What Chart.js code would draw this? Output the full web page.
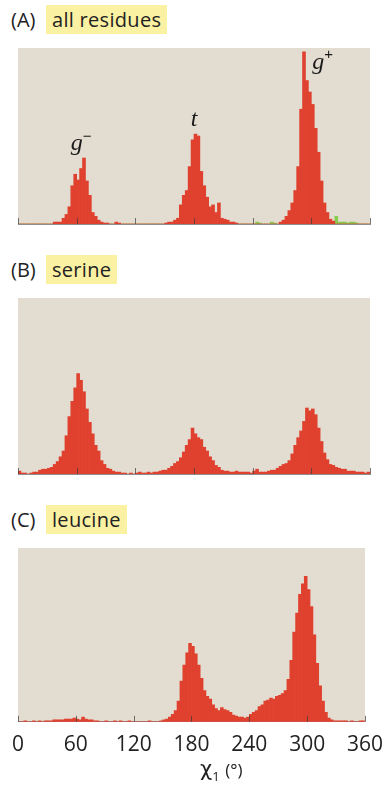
<!DOCTYPE html>
<html>
<head>
<meta charset="utf-8">
<script src="https://cdn.jsdelivr.net/npm/chart.js@4.4.1/dist/chart.umd.min.js"></script>
<style>
  body { margin: 0; background: #fff; width: 386px; height: 789px; position: relative; overflow: hidden; font-family: "Open Sans", sans-serif; color: #222; }
  .painel { position: absolute; left: 11px; height: 29px; line-height: 29px; font-size: 20px; white-space: nowrap; }
  .painel .tag { display: inline-block; width: 35px; }
  .painel .nome { display: inline-block; height: 29px; background: #fbf1a3; padding: 0 6px; letter-spacing: 0.3px; }
  canvas { position: absolute; left: 0; }
  #eixoTitulo { position: absolute; left: 200px; top: 752px; font-size: 22px; white-space: nowrap; }
  #eixoTitulo .chi { font-family: "DejaVu Sans", sans-serif; font-size: 21px; }
  #eixoTitulo sub { font-size: 13px; }
  #eixoTitulo small { font-size: 17px; }
</style>
</head>
<body>

<div class="painel" style="top:5px"><span class="tag">(A)</span><span class="nome">all residues</span></div>
<div class="painel" style="top:255px"><span class="tag">(B)</span><span class="nome">serine</span></div>
<div class="painel" style="top:505px"><span class="tag">(C)</span><span class="nome">leucine</span></div>

<canvas id="graficoA" width="386" height="200" style="top:40px"></canvas>
<canvas id="graficoB" width="386" height="200" style="top:290px"></canvas>
<canvas id="graficoC" width="386" height="225" style="top:540px"></canvas>

<div id="eixoTitulo"><span class="chi">χ</span><sub>1</sub> <small>(°)</small></div>

<script>
// histogram bins of 3 degrees, 0..360
const binWidth = 3;
const tickValues = [0, 60, 120, 180, 240, 300, 360];

// (A) all residues - counts per bin (red), plus the few green bins
const allResidues = [
  0, 0, 0, 0, 0, 0, 0, 0, 0, 0, 0, 0,
  2, 2, 2, 6, 10, 18, 40, 52, 46, 58, 69, 45,
  30, 12, 8, 4, 2, 1, 1, 0, 0, 2, 1, 0,
  0, 0, 0, 0, 0, 0, 0, 0, 0, 0, 0, 0,
  0, 0, 1, 2, 2, 4, 6, 20, 30, 35, 60, 88,
  94, 92, 55, 40, 28, 18, 20, 12, 22, 6, 5, 4,
  2, 2, 1, 0, 0, 0, 0, 0, 0, 0, 0, 0,
  0, 0, 0, 0, 0, 2, 4, 8, 14, 22, 35, 60,
  120, 180, 150, 138, 125, 100, 75, 45, 22, 12, 5, 3,
  0, 0, 0, 0, 0, 0, 0, 0, 0, 0, 0, 0
];
const allResiduesGreen = [
  0, 0, 0, 0, 0, 0, 0, 0, 0, 0, 0, 0,
  0, 0, 0, 0, 0, 0, 0, 0, 0, 0, 0, 0,
  0, 0, 0, 0, 0, 0, 0, 0, 0, 0, 0, 0,
  0, 0, 0, 0, 0, 0, 0, 0, 0, 0, 0, 0,
  0, 0, 0, 0, 0, 0, 0, 0, 0, 0, 0, 0,
  0, 0, 0, 0, 0, 0, 0, 0, 0, 0, 0, 0,
  0, 0, 0, 0, 0, 0, 0, 0, 0, 2, 1, 0,
  0, 0, 2, 1, 0, 0, 0, 0, 0, 0, 0, 0,
  0, 0, 0, 0, 0, 0, 0, 0, 0, 0, 0, 0,
  8, 2, 2, 2, 1, 2, 2, 1, 0, 0, 0, 0
];

// (B) serine
const serine = [
  3, 1, 1, 0, 1, 2, 2, 4, 5, 5, 6, 7,
  10, 13, 18, 24, 40, 60, 76, 90, 105, 98, 86, 68,
  54, 42, 30, 24, 14, 10, 6, 5, 3, 2, 2, 1,
  1, 0, 1, 0, 1, 2, 1, 1, 2, 1, 2, 2,
  3, 4, 4, 6, 8, 11, 13, 17, 23, 30, 36, 48,
  42, 38, 36, 28, 24, 18, 14, 9, 7, 4, 3, 3,
  2, 2, 3, 2, 2, 2, 2, 1, 3, 5, 2, 2,
  2, 3, 4, 4, 6, 8, 10, 11, 14, 21, 30, 38,
  45, 55, 69, 66, 68, 62, 48, 34, 22, 15, 10, 9,
  7, 6, 5, 5, 3, 3, 3, 2, 2, 2, 1, 2
];

// (C) leucine
const leucine = [
  0, 0, 1, 0, 0, 1, 0, 1, 0, 1, 1, 1,
  2, 2, 2, 2, 3, 3, 3, 4, 3, 2, 5, 3,
  2, 2, 1, 1, 0, 0, 1, 0, 0, 1, 0, 1,
  0, 0, 1, 0, 0, 0, 0, 0, 0, 1, 0, 0,
  0, 1, 2, 3, 5, 8, 12, 22, 43, 60, 73, 83,
  80, 72, 60, 46, 33, 27, 24, 18, 14, 12, 15, 13,
  12, 10, 7, 6, 5, 5, 4, 5, 8, 10, 12, 16,
  18, 22, 23, 25, 24, 27, 28, 30, 33, 45, 65, 95,
  115, 135, 146, 154, 140, 122, 92, 62, 38, 22, 10, 4,
  2, 1, 1, 1, 1, 1, 0, 1, 0, 0, 1, 1
];

// rotulos dos picos no painel A (angulo, altura)
const peakLabels = [
  { base: "g", sup: "\u2212", deg: 60, y: 84 },
  { base: "t", sup: "", deg: 180, y: 109 },
  { base: "g", sup: "+", deg: 307, y: 169 }
];

const corFundo = "#e2dcd1";
const vermelho = "#e0412f";
const verde = "#86cc4e";

function toPoints(values) {
  return values.map((v, i) => ({ x: i * binWidth + binWidth / 2, y: v }));
}

const fundo = {
  id: "fundo",
  beforeDraw(chart) {
    const a = chart.chartArea;
    chart.ctx.save();
    chart.ctx.fillStyle = corFundo;
    chart.ctx.fillRect(a.left, a.top, a.right - a.left, a.bottom - a.top);
    chart.ctx.restore();
  }
};

// small tick marks pointing up into the plot, over the bars
const marcas = {
  id: "marcas",
  afterDatasetsDraw(chart) {
    const ctx = chart.ctx;
    const x = chart.scales.x;
    const bottom = chart.chartArea.bottom;
    ctx.save();
    ctx.strokeStyle = "rgba(60,60,60,0.7)";
    ctx.lineWidth = 1;
    tickValues.forEach(v => {
      const px = Math.round(x.getPixelForValue(v)) + 0.5;
      ctx.beginPath();
      ctx.moveTo(px, bottom);
      ctx.lineTo(px, bottom - 6);
      ctx.stroke();
    });
    ctx.restore();
  }
};

const rotulosPicos = {
  id: "rotulosPicos",
  afterDatasetsDraw(chart) {
    const ctx = chart.ctx;
    const xs = chart.scales.x, ys = chart.scales.y;
    ctx.save();
    ctx.fillStyle = "#1a1a1a";
    ctx.textBaseline = "middle";
    peakLabels.forEach(p => {
      const px = xs.getPixelForValue(p.deg);
      const py = ys.getPixelForValue(p.y);
      ctx.font = 'italic 24px "Liberation Serif"';
      ctx.textAlign = "center";
      ctx.fillText(p.base, px, py);
      if (p.sup) {
        const w = ctx.measureText(p.base).width;
        ctx.font = '15px "Liberation Sans"';
        ctx.textAlign = "left";
        ctx.fillText(p.sup, px + w / 2, py - 7);
      }
    });
    ctx.restore();
  }
};

function criarPainel(id, datasets, comRotulos, padBottom, extras) {
  return new Chart(document.getElementById(id), {
    type: "bar",
    data: { datasets: datasets },
    options: {
      responsive: false,
      animation: false,
      layout: { padding: { top: 8, left: 18, right: 16, bottom: padBottom } },
      plugins: {
        legend: { display: false },
        tooltip: { enabled: false }
      },
      scales: {
        x: {
          type: "linear",
          min: 0,
          max: 360,
          offset: false,
          ticks: {
            display: comRotulos,
            stepSize: 60,
            autoSkip: false,
            maxRotation: 0,
            padding: 3,
            color: "#222",
            font: { family: "Open Sans", size: 21 }
          },
          grid: { display: false },
          border: { display: true, color: "#8e8e8e", width: 1 }
        },
        y: { display: false, min: 0, max: 184 }
      }
    },
    plugins: [fundo, marcas].concat(extras || [])
  });
}

function serie(values, cor) {
  return {
    data: toPoints(values),
    backgroundColor: cor,
    borderWidth: 0,
    barPercentage: 1,
    categoryPercentage: 1,
    grouped: false
  };
}

criarPainel("graficoA", [serie(allResidues, vermelho), serie(allResiduesGreen, verde)], false, 8, [rotulosPicos]);
criarPainel("graficoB", [serie(serine, vermelho)], false, 8);
criarPainel("graficoC", [serie(leucine, vermelho)], true, 4);
</script>
</body>
</html>
